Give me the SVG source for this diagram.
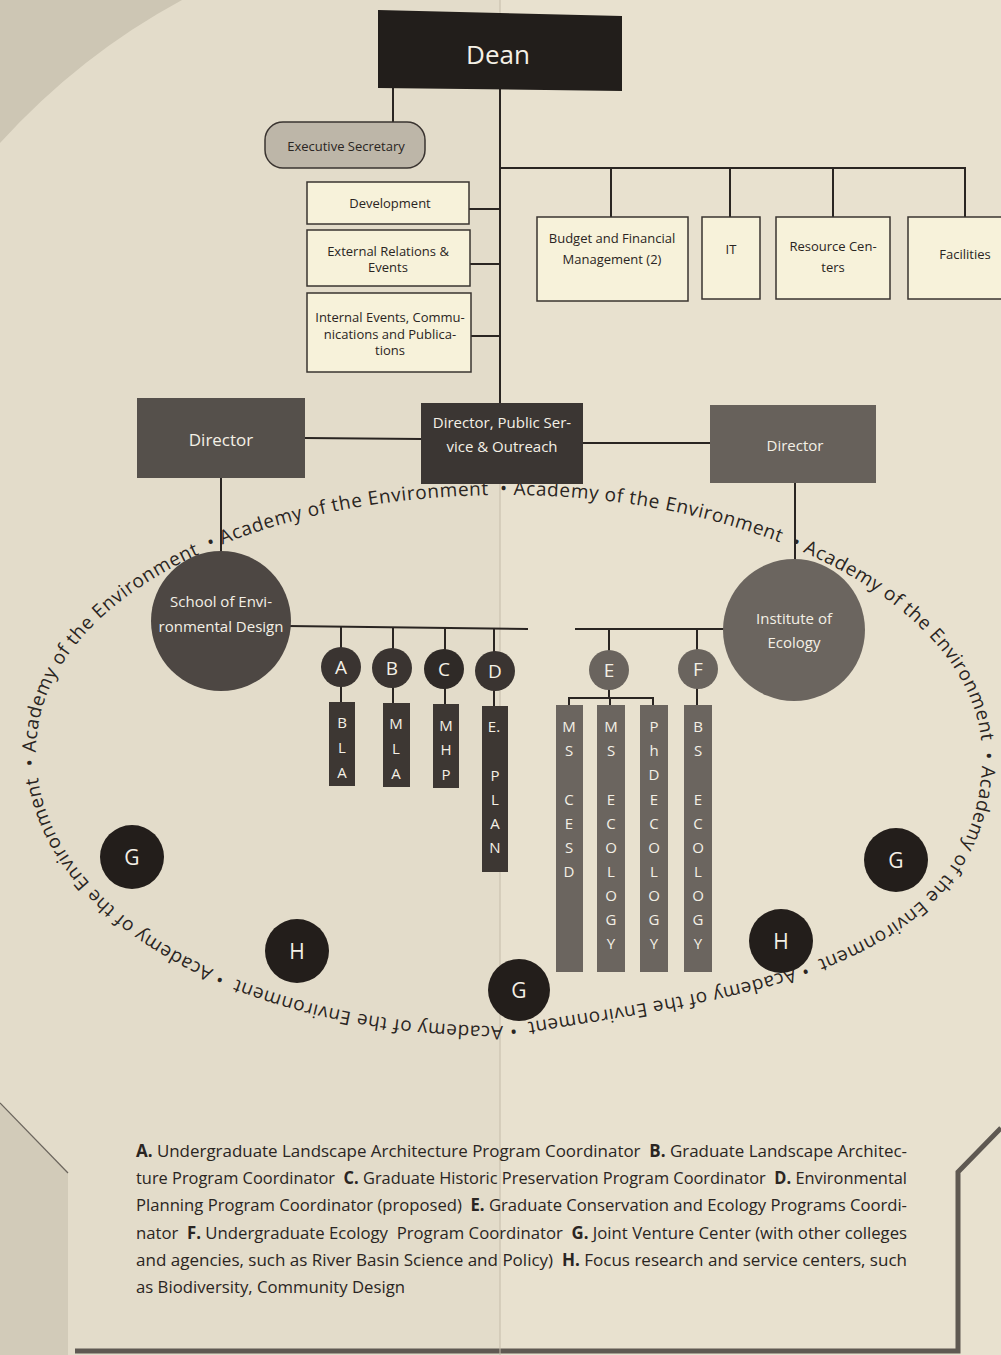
<svg xmlns="http://www.w3.org/2000/svg" width="1001" height="1355" viewBox="0 0 1001 1355">
<style>
text{font-family:"Open Sans","Noto Sans",sans-serif}
.ln{stroke:#2a2522;stroke-width:2;fill:none}
.box{fill:#f7f2da;stroke:#3a3430;stroke-width:1.5}
.t13{font-size:13px;fill:#2a2522;text-anchor:middle}
.wt{fill:#f4f0e6;text-anchor:middle}
.bar{fill:#3d3733}
.bar2{fill:#6b655f}
.bl{font-size:15px;fill:#f4f0e6;text-anchor:middle}
.ring{font-size:19px;fill:#2a2522;letter-spacing:0.6px}
.leg{font-size:17px;fill:#2a2522;white-space:pre}
.leg tspan.b{font-weight:bold}
</style>
<defs>
<path id="ring" d="M36.56,765.9 C36.19,761.3 36,756.67 36,752 C36,605.5 238.5,495 507,495 C770,495 982,612.5 982,756 C982,870 905,928 812,962 C728,993 600,1010 505,1026 C245,1026 48.42,914.54 36.56,765.9 Z"/>
</defs>
<g id="background">
<rect x="0" y="0" width="1001" height="1355" fill="#e8e1cf"/>
<rect x="0" y="0" width="500" height="1355" fill="#8a8070" opacity="0.05"/>
<path d="M0,0 L182,0 Q80,55 0,143 Z" fill="#cdc6b4"/>
<path d="M0,1103 L68,1173 L68,1355 L0,1355 Z" fill="#d2cbb9"/>
<path d="M0,1103 L68,1173" stroke="#6b655d" stroke-width="1.2" fill="none"/>
<path d="M1001,1128 L958,1172 L958,1351 L75,1351" stroke="#5f5952" stroke-width="5" fill="none"/>
<line x1="500" y1="0" x2="500" y2="1355" stroke="#c4bcaa" stroke-width="1"/>
</g>
<g id="ring-text">
<text class="ring"><textPath href="#ring" startOffset="0%">• Academy of the Environment</textPath></text>
<text class="ring"><textPath href="#ring" startOffset="12.5%">• Academy of the Environment</textPath></text>
<text class="ring"><textPath href="#ring" startOffset="25%">• Academy of the Environment</textPath></text>
<text class="ring"><textPath href="#ring" startOffset="37.5%">• Academy of the Environment</textPath></text>
<text class="ring"><textPath href="#ring" startOffset="50%">• Academy of the Environment</textPath></text>
<text class="ring"><textPath href="#ring" startOffset="62.5%">• Academy of the Environment</textPath></text>
<text class="ring"><textPath href="#ring" startOffset="75%">• Academy of the Environment</textPath></text>
<text class="ring"><textPath href="#ring" startOffset="87.5%">• Academy of the Environment</textPath></text>
</g>
<g id="connectors">
<line class="ln" x1="500" y1="88" x2="500" y2="404"/>
<line class="ln" x1="393" y1="86" x2="393" y2="124"/>
<line class="ln" x1="499" y1="168" x2="966" y2="168"/>
<line class="ln" x1="611" y1="168" x2="611" y2="217"/>
<line class="ln" x1="730" y1="168" x2="730" y2="217"/>
<line class="ln" x1="833" y1="168" x2="833" y2="217"/>
<line class="ln" x1="965" y1="168" x2="965" y2="217"/>
<line class="ln" x1="469" y1="209" x2="500" y2="209"/>
<line class="ln" x1="470" y1="264" x2="500" y2="264"/>
<line class="ln" x1="471" y1="336" x2="500" y2="336"/>
<line class="ln" x1="305" y1="438" x2="421" y2="439"/>
<line class="ln" x1="583" y1="443" x2="710" y2="443"/>
<line class="ln" x1="221" y1="478" x2="221" y2="553"/>
<line class="ln" x1="795" y1="483" x2="795" y2="560"/>
<line class="ln" x1="288" y1="626" x2="528" y2="629"/>
<line class="ln" x1="341" y1="626" x2="341" y2="702"/>
<line class="ln" x1="393" y1="627" x2="393" y2="703"/>
<line class="ln" x1="445" y1="628" x2="445" y2="704"/>
<line class="ln" x1="494" y1="628" x2="494" y2="706"/>
<line class="ln" x1="575" y1="629" x2="725" y2="629"/>
<line class="ln" x1="609" y1="629" x2="609" y2="698"/>
<line class="ln" x1="697" y1="629" x2="697" y2="705"/>
<path class="ln" d="M569,705 L569,698 L653,698 L653,705"/>
<line class="ln" x1="610" y1="698" x2="610" y2="705"/>
</g>
<g id="dean">
<path d="M378,10 L622,16 L622,91 L378,88 Z" fill="#221e1b"/>
<text x="498" y="64" class="wt" font-size="26">Dean</text>
</g>
<g id="exec-secretary">
<rect x="265" y="122" width="160" height="46" rx="18" fill="#bdb6a8" stroke="#3a3430" stroke-width="1.5"/>
<text x="346" y="151" class="t13">Executive Secretary</text>
</g>
<g id="development">
<rect class="box" x="307" y="182" width="162" height="42"/>
<text x="390" y="208" class="t13">Development</text>
</g>
<g id="external-relations">
<rect class="box" x="307" y="230" width="163" height="56"/>
<text x="388" y="256" class="t13">External Relations &amp;</text>
<text x="388" y="272" class="t13">Events</text>
</g>
<g id="internal-events">
<rect class="box" x="307" y="293" width="164" height="79"/>
<text x="390" y="322" class="t13">Internal Events, Commu-</text>
<text x="390" y="339" class="t13">nications and Publica-</text>
<text x="390" y="355" class="t13">tions</text>
</g>
<g id="budget">
<rect class="box" x="537" y="217" width="151" height="84"/>
<text x="612" y="243" class="t13">Budget and  Financial</text>
<text x="612" y="264" class="t13">Management (2)</text>
</g>
<g id="it">
<rect class="box" x="702" y="217" width="58" height="82"/>
<text x="731" y="254" class="t13">IT</text>
</g>
<g id="resource-centers">
<rect class="box" x="776" y="217" width="114" height="82"/>
<text x="833" y="251" class="t13">Resource Cen-</text>
<text x="833" y="272" class="t13">ters</text>
</g>
<g id="facilities">
<rect class="box" x="908" y="217" width="96" height="82"/>
<text x="965" y="259" class="t13">Facilities</text>
</g>
<g id="director-left">
<rect x="137" y="398" width="168" height="80" fill="#55504b"/>
<text x="221" y="446" class="wt" font-size="17">Director</text>
</g>
<g id="director-public">
<rect x="421" y="403" width="162" height="81" fill="#3b3633"/>
<text x="502" y="428" class="wt" font-size="15">Director, Public Ser-</text>
<text x="502" y="452" class="wt" font-size="15">vice &amp; Outreach</text>
</g>
<g id="director-right">
<rect x="710" y="405" width="166" height="78" fill="#67615b"/>
<text x="795" y="451" class="wt" font-size="15">Director</text>
</g>
<g id="school">
<circle cx="221" cy="621" r="70" fill="#4d4743"/>
<text x="221" y="607" class="wt" font-size="15">School of Envi-</text>
<text x="221" y="632" class="wt" font-size="15">ronmental Design</text>
</g>
<g id="institute">
<circle cx="794" cy="630" r="71" fill="#6b655f"/>
<text x="794" y="624" class="wt" font-size="15">Institute of</text>
<text x="794" y="648" class="wt" font-size="15">Ecology</text>
</g>
<g id="A">
<circle cx="341" cy="667" r="20" fill="#3a3431"/>
<text x="341" y="674" class="wt" font-size="19">A</text>
</g>
<g id="B">
<circle cx="392" cy="668" r="20" fill="#3a3431"/>
<text x="392" y="675" class="wt" font-size="19">B</text>
</g>
<g id="C">
<circle cx="444" cy="669" r="20" fill="#2f2a27"/>
<text x="444" y="676" class="wt" font-size="19">C</text>
</g>
<g id="D">
<circle cx="495" cy="671" r="20" fill="#3a3431"/>
<text x="495" y="678" class="wt" font-size="19">D</text>
</g>
<g id="E">
<circle cx="609" cy="670" r="20" fill="#6a645e"/>
<text x="609" y="677" class="wt" font-size="19">E</text>
</g>
<g id="F">
<circle cx="698" cy="669" r="20" fill="#6a645e"/>
<text x="698" y="676" class="wt" font-size="19">F</text>
</g>
<g id="bla">
<rect class="bar" x="329" y="702" width="26" height="84"/>
<text class="bl"><tspan x="342" y="728">B</tspan><tspan x="342" y="753">L</tspan><tspan x="342" y="778">A</tspan></text>
</g>
<g id="mla">
<rect class="bar" x="383" y="703" width="27" height="84"/>
<text class="bl"><tspan x="396" y="729">M</tspan><tspan x="396" y="754">L</tspan><tspan x="396" y="779">A</tspan></text>
</g>
<g id="mhp">
<rect class="bar" x="433" y="704" width="26" height="84"/>
<text class="bl"><tspan x="446" y="731">M</tspan><tspan x="446" y="755">H</tspan><tspan x="446" y="780">P</tspan></text>
</g>
<g id="eplan">
<rect class="bar" x="482" y="706" width="26" height="166"/>
<text class="bl"><tspan x="494" y="732">E.</tspan><tspan x="495" y="781">P</tspan><tspan x="495" y="805">L</tspan><tspan x="495" y="829">A</tspan><tspan x="495" y="853">N</tspan></text>
</g>
<g id="ms-cesd">
<rect class="bar2" x="556" y="705" width="27" height="267"/>
<text class="bl"><tspan x="569" y="732">M</tspan><tspan x="569" y="756">S</tspan><tspan x="569" y="805">C</tspan><tspan x="569" y="829">E</tspan><tspan x="569" y="853">S</tspan><tspan x="569" y="877">D</tspan></text>
</g>
<g id="ms-ecology">
<rect class="bar2" x="597" y="705" width="28" height="267"/>
<text class="bl"><tspan x="611" y="732">M</tspan><tspan x="611" y="756">S</tspan><tspan x="611" y="805">E</tspan><tspan x="611" y="829">C</tspan><tspan x="611" y="853">O</tspan><tspan x="611" y="877">L</tspan><tspan x="611" y="901">O</tspan><tspan x="611" y="925">G</tspan><tspan x="611" y="949">Y</tspan></text>
</g>
<g id="phd-ecology">
<rect class="bar2" x="640" y="705" width="28" height="267"/>
<text class="bl"><tspan x="654" y="732">P</tspan><tspan x="654" y="756">h</tspan><tspan x="654" y="780">D</tspan><tspan x="654" y="805">E</tspan><tspan x="654" y="829">C</tspan><tspan x="654" y="853">O</tspan><tspan x="654" y="877">L</tspan><tspan x="654" y="901">O</tspan><tspan x="654" y="925">G</tspan><tspan x="654" y="949">Y</tspan></text>
</g>
<g id="bs-ecology">
<rect class="bar2" x="684" y="705" width="28" height="267"/>
<text class="bl"><tspan x="698" y="732">B</tspan><tspan x="698" y="756">S</tspan><tspan x="698" y="805">E</tspan><tspan x="698" y="829">C</tspan><tspan x="698" y="853">O</tspan><tspan x="698" y="877">L</tspan><tspan x="698" y="901">O</tspan><tspan x="698" y="925">G</tspan><tspan x="698" y="949">Y</tspan></text>
</g>
<g id="G-left">
<circle cx="132" cy="857" r="32" fill="#231e1b"/>
<text x="132" y="865" class="wt" font-size="21">G</text>
</g>
<g id="G-right">
<circle cx="896" cy="860" r="32" fill="#231e1b"/>
<text x="896" y="868" class="wt" font-size="21">G</text>
</g>
<g id="G-bottom">
<circle cx="519" cy="990" r="31" fill="#231e1b"/>
<text x="519" y="998" class="wt" font-size="21">G</text>
</g>
<g id="H-left">
<circle cx="297" cy="951" r="32" fill="#231e1b"/>
<text x="297" y="959" class="wt" font-size="21">H</text>
</g>
<g id="H-right">
<circle cx="781" cy="941" r="32" fill="#231e1b"/>
<text x="781" y="949" class="wt" font-size="21">H</text>
</g>
<g id="legend">
<text class="leg" x="136" y="1157" textLength="771" lengthAdjust="spacingAndGlyphs"><tspan class="b">A.</tspan> Undergraduate Landscape Architecture Program Coordinator  <tspan class="b">B.</tspan> Graduate Landscape Architec-</text>
<text class="leg" x="136" y="1184" textLength="771" lengthAdjust="spacingAndGlyphs">ture Program Coordinator  <tspan class="b">C.</tspan> Graduate Historic Preservation Program Coordinator  <tspan class="b">D.</tspan> Environmental</text>
<text class="leg" x="136" y="1211" textLength="771" lengthAdjust="spacingAndGlyphs">Planning Program Coordinator (proposed)  <tspan class="b">E.</tspan> Graduate Conservation and Ecology Programs Coordi-</text>
<text class="leg" x="136" y="1239" textLength="771" lengthAdjust="spacingAndGlyphs">nator  <tspan class="b">F.</tspan> Undergraduate Ecology  Program Coordinator  <tspan class="b">G.</tspan> Joint Venture Center (with other colleges</text>
<text class="leg" x="136" y="1266" textLength="771" lengthAdjust="spacingAndGlyphs">and agencies, such as River Basin Science and Policy)  <tspan class="b">H.</tspan> Focus research and service centers, such</text>
<text class="leg" x="136" y="1293" textLength="269" lengthAdjust="spacingAndGlyphs">as Biodiversity, Community Design</text>
</g>
</svg>
